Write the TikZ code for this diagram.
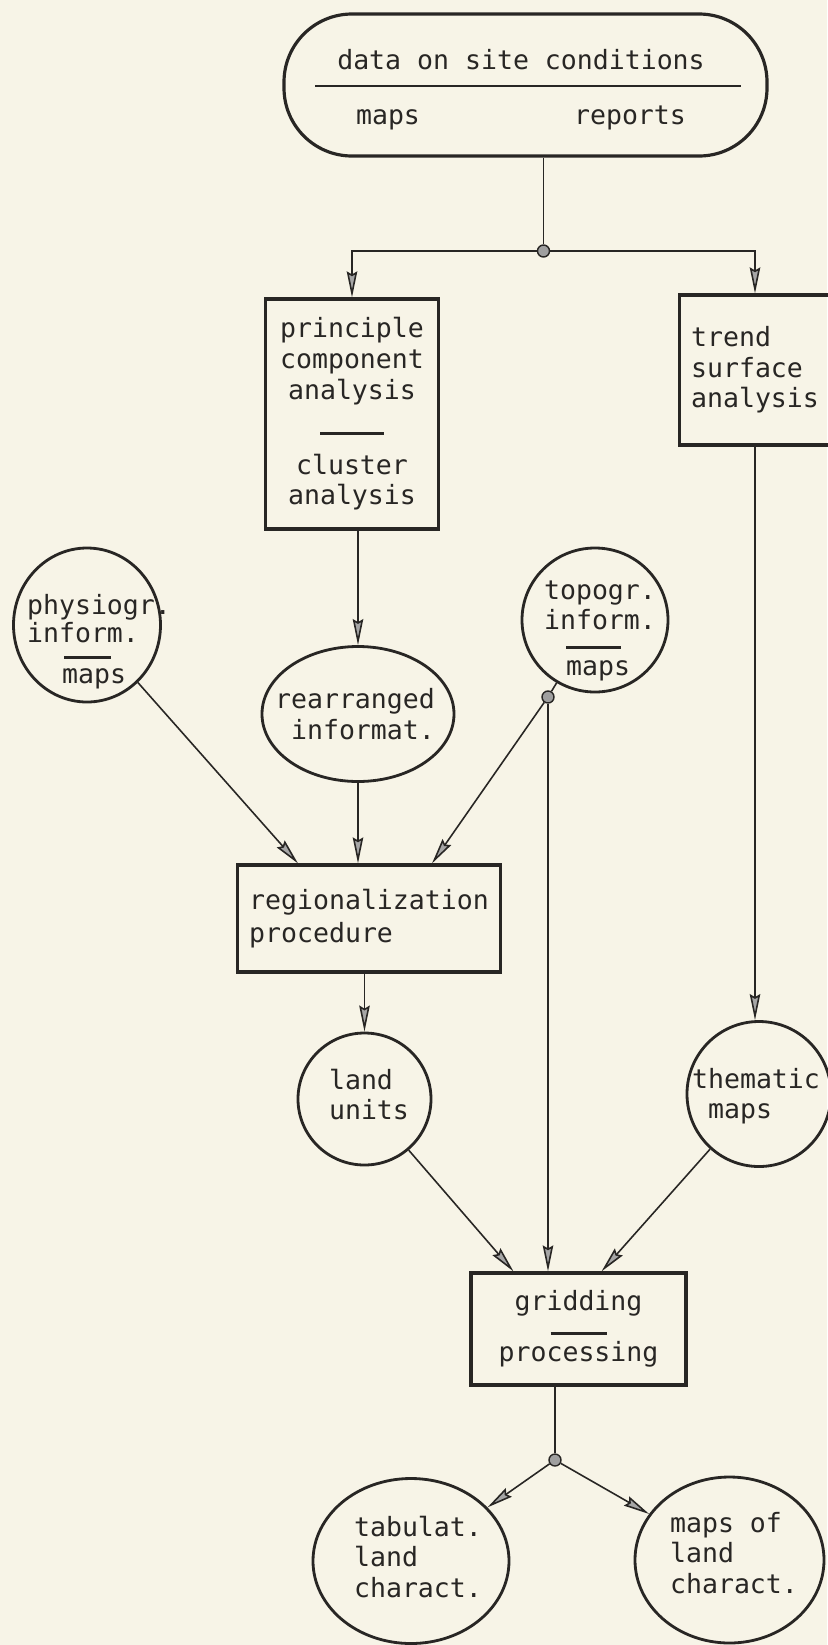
\documentclass[tikz,border=0pt]{standalone}
\usepackage{fontspec}
\setmonofont{DejaVu Sans Mono}
\usepackage{tikz}
\usetikzlibrary{arrows.meta,shapes.geometric}

\definecolor{paper}{RGB}{247,244,231}
\definecolor{inkc}{RGB}{40,38,36}
\newcommand{\divline}[1]{\rule{#1}{0.8pt}}

\begin{document}
\begin{tikzpicture}[
	lbl/.style={font=\ttfamily\fontsize{7.55}{8.7}\selectfont, text=inkc, inner sep=0pt},
	stadium/.style={rectangle, draw=inkc, line width=0.9pt, rounded corners=0.68cm, inner sep=0pt},
	procbox/.style={rectangle, draw=inkc, line width=0.9pt, font=\ttfamily\fontsize{7.55}{8.7}\selectfont, text=inkc},
	infoell/.style={ellipse, draw=inkc, line width=0.8pt, inner sep=0pt},
	joint/.style={circle, draw=inkc, fill=gray!75, line width=0.4pt, inner sep=0pt, minimum size=1.2mm},
	link/.style={draw=inkc, line width=0.45pt},
	flow/.style={link, -{Stealth[length=2.6mm, width=1.05mm, inset=0.3mm, fill=gray!70]}}
	]
	\useasboundingbox (0,0) rectangle (8.27,-16.45);
	\fill[paper] (0,0) rectangle (8.27,-16.45);

	\node[stadium, minimum width=4.83cm, minimum height=1.42cm] (sitedata) at (5.255,-0.85) {};
	\node[lbl, anchor=base] (sd-head) at (5.21,-0.69) {data on site conditions};
	\draw[link, line width=0.8pt] (3.15,-0.86) -- (7.41,-0.86);
	\node[lbl, anchor=base] (sd-maps) at (3.88,-1.24) {maps};
	\node[lbl, anchor=base] (sd-rep) at (6.30,-1.24) {reports};
	\node[joint] (split1) at (5.435,-2.51) {};

	\node[procbox, minimum width=1.73cm, minimum height=2.30cm, align=center] (pca) at (3.52,-4.14)
		{principle\\component\\analysis\\[0.055cm]\divline{0.64cm}\\[0.085cm]cluster\\analysis};
	\node[procbox, minimum width=1.38cm, minimum height=1.50cm, align=left] (trend) at (7.55,-3.70)
		{trend\\surface\\analysis};

	\node[infoell, minimum width=1.47cm, minimum height=1.54cm] (physio) at (0.87,-6.25) {};
	\node[lbl, align=left] (physio-t) at (0.99,-6.42)
		{physiogr.\\[-0.03cm]inform.\\[-0.145cm]\hspace*{0.37cm}\divline{0.47cm}\\[-0.055cm]\hspace*{0.35cm}maps};
	\node[infoell, minimum width=1.92cm, minimum height=1.35cm] (rearr) at (3.58,-7.14) {};
	\node[lbl, align=right] (rearr-t) at (3.55,-7.14) {rearranged\\informat.};
	\node[infoell, minimum width=1.46cm, minimum height=1.44cm] (topo) at (5.95,-6.20) {};
	\node[lbl, align=left] (topo-t) at (6.00,-6.31)
		{topogr.\\inform.\\[-0.115cm]\hspace*{0.22cm}\divline{0.55cm}\\[-0.035cm]\hspace*{0.22cm}maps};
	\node[joint] (topodot) at (5.48,-6.97) {};

	\node[procbox, minimum width=2.52cm, minimum height=1.07cm, align=left] (regio) at (3.69,-9.185)
		{regionalization\\[0.02cm]procedure};

	\node[infoell, minimum width=1.33cm, minimum height=1.32cm] (land) at (3.645,-10.99) {};
	\node[lbl, align=left] (land-t) at (3.69,-10.945) {land\\units};
	\node[infoell, minimum width=1.44cm, minimum height=1.45cm] (thema) at (7.59,-10.94) {};
	\node[lbl, align=left] (thema-t) at (7.56,-10.96) {thematic\\\phantom{x}maps};

	\node[procbox, minimum width=2.15cm, minimum height=1.12cm, align=center] (grid) at (5.785,-13.29)
		{gridding\\[-0.065cm]\divline{0.56cm}\\[-0.035cm]processing};
	\node[joint] (split2) at (5.55,-14.60) {};

	\node[infoell, minimum width=1.96cm, minimum height=1.65cm] (tabul) at (4.11,-15.61) {};
	\node[lbl, align=left] (tabul-t) at (4.18,-15.57) {tabulat.\\land\\charact.};
	\node[infoell, minimum width=1.89cm, minimum height=1.66cm] (mapsl) at (7.295,-15.60) {};
	\node[lbl, align=left] (mapsl-t) at (7.34,-15.53) {maps of\\land\\charact.};

	\draw[link] (sitedata.south -| split1) -- (split1);
	\draw[flow] (split1) -| (pca);
	\draw[flow] (split1) -| (trend);
	\draw[flow] (pca.south -| rearr) -- (rearr);
	\draw[flow] (physio) -- ([xshift=-0.71cm]regio.north);
	\draw[flow] (rearr) -- (rearr |- regio.north);
	\draw[link] (topo) -- (topodot);
	\draw[flow] (topodot) -- ([xshift=0.63cm]regio.north);
	\draw[flow] (topodot) -- (topodot |- grid.north);
	\draw[flow] (trend) -- (trend |- thema.north);
	\draw[flow] (regio.south -| land) -- (land);
	\draw[flow] (land) -- ([xshift=-0.65cm]grid.north);
	\draw[flow] (thema) -- ([xshift=0.23cm]grid.north);
	\draw[link] (grid.south -| split2) -- (split2);
	\draw[flow] (split2) -- (tabul);
	\draw[flow] (split2) -- (mapsl);
\end{tikzpicture}
\end{document}
